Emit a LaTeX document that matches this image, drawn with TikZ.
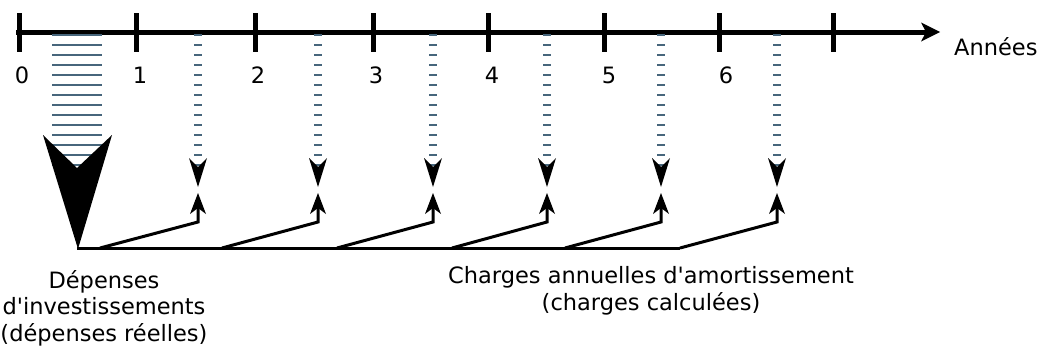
\documentclass[tikz,border=0pt]{standalone}
\usepackage{fontspec}
\setmainfont{DejaVu Sans}[Ligatures = TeXOff]
\usepackage{tikz}
\usetikzlibrary{arrows.meta}
\definecolor{slate}{HTML}{47667C}
\tikzset{axis/.style = {line width = 5pt, -{Stealth[length = 19pt, width = 19pt, inset = 5pt, line width = 0pt]}}}
\tikzset{yeartick/.style = {line width = 5pt}}
\tikzset{yearlabel/.style = {anchor = base, inner sep = 0pt, font = \fontsize{22.5}{26}\selectfont}}
\tikzset{caption/.style = {align = center, inner sep = 0pt, font = \fontsize{22.5}{26.5}\selectfont}}
\tikzset{dotarrow/.style = {slate, line width = 8pt, dash pattern = on 2.2pt off 7.8pt,
    -{Stealth[length = 29pt, width = 18pt, inset = 9pt, line width = 0pt, color = black]}}}
\tikzset{bookarrow/.style = {line width = 3pt, -{Stealth[length = 21pt, width = 16pt, inset = 6pt, line width = 0pt]}}}

\begin{document}
\begin{tikzpicture}[x = 1pt, y = -1pt]
			\useasboundingbox (0, 0) rectangle (1038, 351);

			\coordinate (a0) at (16, 32);
			\coordinate (a1) at (940, 32);
			\draw[axis] (a0) to (a1);

			\draw[yeartick] (19, 13) -- (19, 52);
			\draw[yeartick] (136, 13) -- (136, 52);
			\draw[yeartick] (255, 13) -- (255, 52);
			\draw[yeartick] (373, 13) -- (373, 52);
			\draw[yeartick] (488, 13) -- (488, 52);
			\draw[yeartick] (604, 13) -- (604, 52);
			\draw[yeartick] (719, 13) -- (719, 52);
			\draw[yeartick] (833, 13) -- (833, 52);

			\node[yearlabel] (n0) at (22, 83) {0};
			\node[yearlabel] (n1) at (140, 83) {1};
			\node[yearlabel] (n2) at (258, 83) {2};
			\node[yearlabel] (n3) at (376, 83) {3};
			\node[yearlabel] (n4) at (492, 83) {4};
			\node[yearlabel] (n5) at (609, 83) {5};
			\node[yearlabel] (n6) at (726, 83) {6};
			\node[yearlabel, anchor = base west] (years) at (954, 55) {Années};

			% investment
			\draw[slate, line width = 50pt, dash pattern = on 2.2pt off 7.8pt] (77, 34) -- (77, 168);
			\fill (43, 135) -- (77, 168) -- (112, 135) -- (78, 249) -- cycle;
			\coordinate (p) at (77, 248);
			\coordinate (q) at (680, 248);
			\draw[line width = 3pt] (p) to (q);

			% yearly charges
			\coordinate (s1) at (198, 34);
			\coordinate (e1) at (198, 187);
			\coordinate (s2) at (318, 34);
			\coordinate (e2) at (318, 187);
			\coordinate (s3) at (433, 34);
			\coordinate (e3) at (433, 187);
			\coordinate (s4) at (547, 34);
			\coordinate (e4) at (547, 187);
			\coordinate (s5) at (661, 34);
			\coordinate (e5) at (661, 187);
			\coordinate (s6) at (777, 34);
			\coordinate (e6) at (777, 187);
			\draw[dotarrow] (s1) to (e1);
			\draw[dotarrow] (s2) to (e2);
			\draw[dotarrow] (s3) to (e3);
			\draw[dotarrow] (s4) to (e4);
			\draw[dotarrow] (s5) to (e5);
			\draw[dotarrow] (s6) to (e6);

			\coordinate (b1) at (100, 248);
			\coordinate (b2) at (222, 248);
			\coordinate (b3) at (337, 248);
			\coordinate (b4) at (452, 248);
			\coordinate (b5) at (565, 248);
			\coordinate (b6) at (680, 248);
			\coordinate (k1) at (198, 222);
			\coordinate (k2) at (318, 222);
			\coordinate (k3) at (433, 222);
			\coordinate (k4) at (547, 222);
			\coordinate (k5) at (661, 222);
			\coordinate (k6) at (777, 222);
			\draw[bookarrow] (b1) -- (k1) -- (198, 193);
			\draw[bookarrow] (b2) -- (k2) -- (318, 193);
			\draw[bookarrow] (b3) -- (k3) -- (433, 193);
			\draw[bookarrow] (b4) -- (k4) -- (547, 193);
			\draw[bookarrow] (b5) -- (k5) -- (661, 193);
			\draw[bookarrow] (b6) -- (k6) -- (777, 193);

			\node[caption] (inv) at (104, 308) {Dépenses\\d'investissements\\(dépenses réelles)};
			\node[caption] (chg) at (651, 291) {Charges annuelles d'amortissement\\(charges calculées)};
		\end{tikzpicture}
\end{document}
